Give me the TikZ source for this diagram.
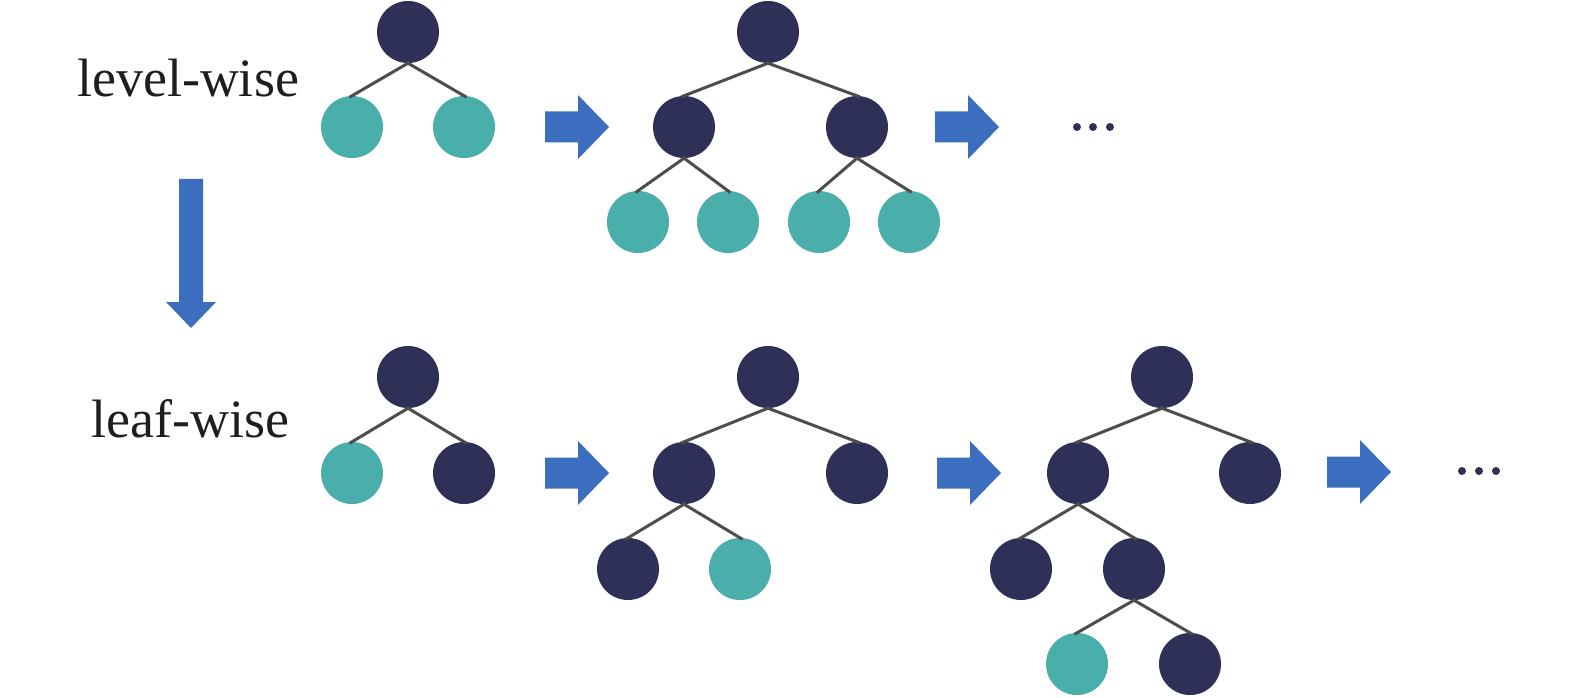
\documentclass[tikz,border=0pt]{standalone}
\usepackage{fontspec}
\setmainfont{Liberation Serif}
\begin{document}
\begin{tikzpicture}[x=1pt,y=-1pt,
  nd/.style={circle,minimum size=62pt,inner sep=0pt,draw=none},
  dk/.style={nd,fill=navy},
  tl/.style={nd,fill=tealc},
  ed/.style={draw=edgec,line width=3pt,shorten <=-2pt,shorten >=-3pt},
  dotc/.style={circle,fill=navy,minimum size=8pt,inner sep=0pt},
  lbl/.style={font=\fontsize{54}{60}\selectfont,text=textc,inner sep=0pt,anchor=base},
  barrow/.pic={\fill[arrowc] (0,-15.5) -- (33,-15.5) -- (33,-32) -- (64,0) -- (33,32) -- (33,15.5) -- (0,15.5) -- cycle;}
]
\definecolor{navy}{RGB}{46,48,87}
\definecolor{tealc}{RGB}{74,174,170}
\definecolor{arrowc}{RGB}{59,110,190}
\definecolor{edgec}{RGB}{77,77,77}
\definecolor{textc}{RGB}{30,30,30}
\useasboundingbox[fill=white] (0,0) rectangle (1575,698);

% labels
\node[lbl] (lvl) at (188,97) {level-wise};
\node[lbl] (lf) at (190.5,437) {leaf-wise};

% ---- top row ----
\node[dk] (a0) at (408,32) {};
\node[tl] (a1) at (352,127) {};
\node[tl] (a2) at (464,127) {};
\draw[ed] (a0.south) -- (a1.north);
\draw[ed] (a0.south) -- (a2.north);

\pic at (545,127) {barrow};

\node[dk] (b0) at (768,32) {};
\node[dk] (b1) at (684,127) {};
\node[dk] (b2) at (857,127) {};
\node[tl] (b3) at (638,222) {};
\node[tl] (b4) at (728,222) {};
\node[tl] (b5) at (819,222) {};
\node[tl] (b6) at (909,222) {};
\draw[ed] (b0.south) -- (b1.north);
\draw[ed] (b0.south) -- (b2.north);
\draw[ed] (b1.south) -- (b3.north);
\draw[ed] (b1.south) -- (b4.north);
\draw[ed] (b2.south) -- (b5.north);
\draw[ed] (b2.south) -- (b6.north);

\pic at (935,127) {barrow};

\node[dotc] (d1) at (1077,127) {};
\node[dotc] (d2) at (1093,127) {};
\node[dotc] (d3) at (1110,127) {};

% ---- down arrow ----
\fill[arrowc] (179,179) -- (203,179) -- (203,302) -- (216,302) -- (191,328) -- (166,302) -- (179,302) -- cycle;

% ---- bottom row ----
\node[dk] (c0) at (408,377) {};
\node[tl] (c1) at (352,473) {};
\node[dk] (c2) at (464,473) {};
\draw[ed] (c0.south) -- (c1.north);
\draw[ed] (c0.south) -- (c2.north);

\pic at (545,473) {barrow};

\node[dk] (e0) at (768,377) {};
\node[dk] (e1) at (684,473) {};
\node[dk] (e2) at (857,473) {};
\node[dk] (e3) at (628,569) {};
\node[tl] (e4) at (740,569) {};
\draw[ed] (e0.south) -- (e1.north);
\draw[ed] (e0.south) -- (e2.north);
\draw[ed] (e1.south) -- (e3.north);
\draw[ed] (e1.south) -- (e4.north);

\pic at (937,473) {barrow};

\node[dk] (f0) at (1162,377) {};
\node[dk] (f1) at (1078,473) {};
\node[dk] (f2) at (1250,473) {};
\node[dk] (f3) at (1021,569) {};
\node[dk] (f4) at (1134,569) {};
\node[tl] (f5) at (1077,664) {};
\node[dk] (f6) at (1190,664) {};
\draw[ed] (f0.south) -- (f1.north);
\draw[ed] (f0.south) -- (f2.north);
\draw[ed] (f1.south) -- (f3.north);
\draw[ed] (f1.south) -- (f4.north);
\draw[ed] (f4.south) -- (f5.north);
\draw[ed] (f4.south) -- (f6.north);

\pic at (1327,472) {barrow};

\node[dotc] (g1) at (1462,471) {};
\node[dotc] (g2) at (1479,471) {};
\node[dotc] (g3) at (1496,471) {};
\end{tikzpicture}
\end{document}
